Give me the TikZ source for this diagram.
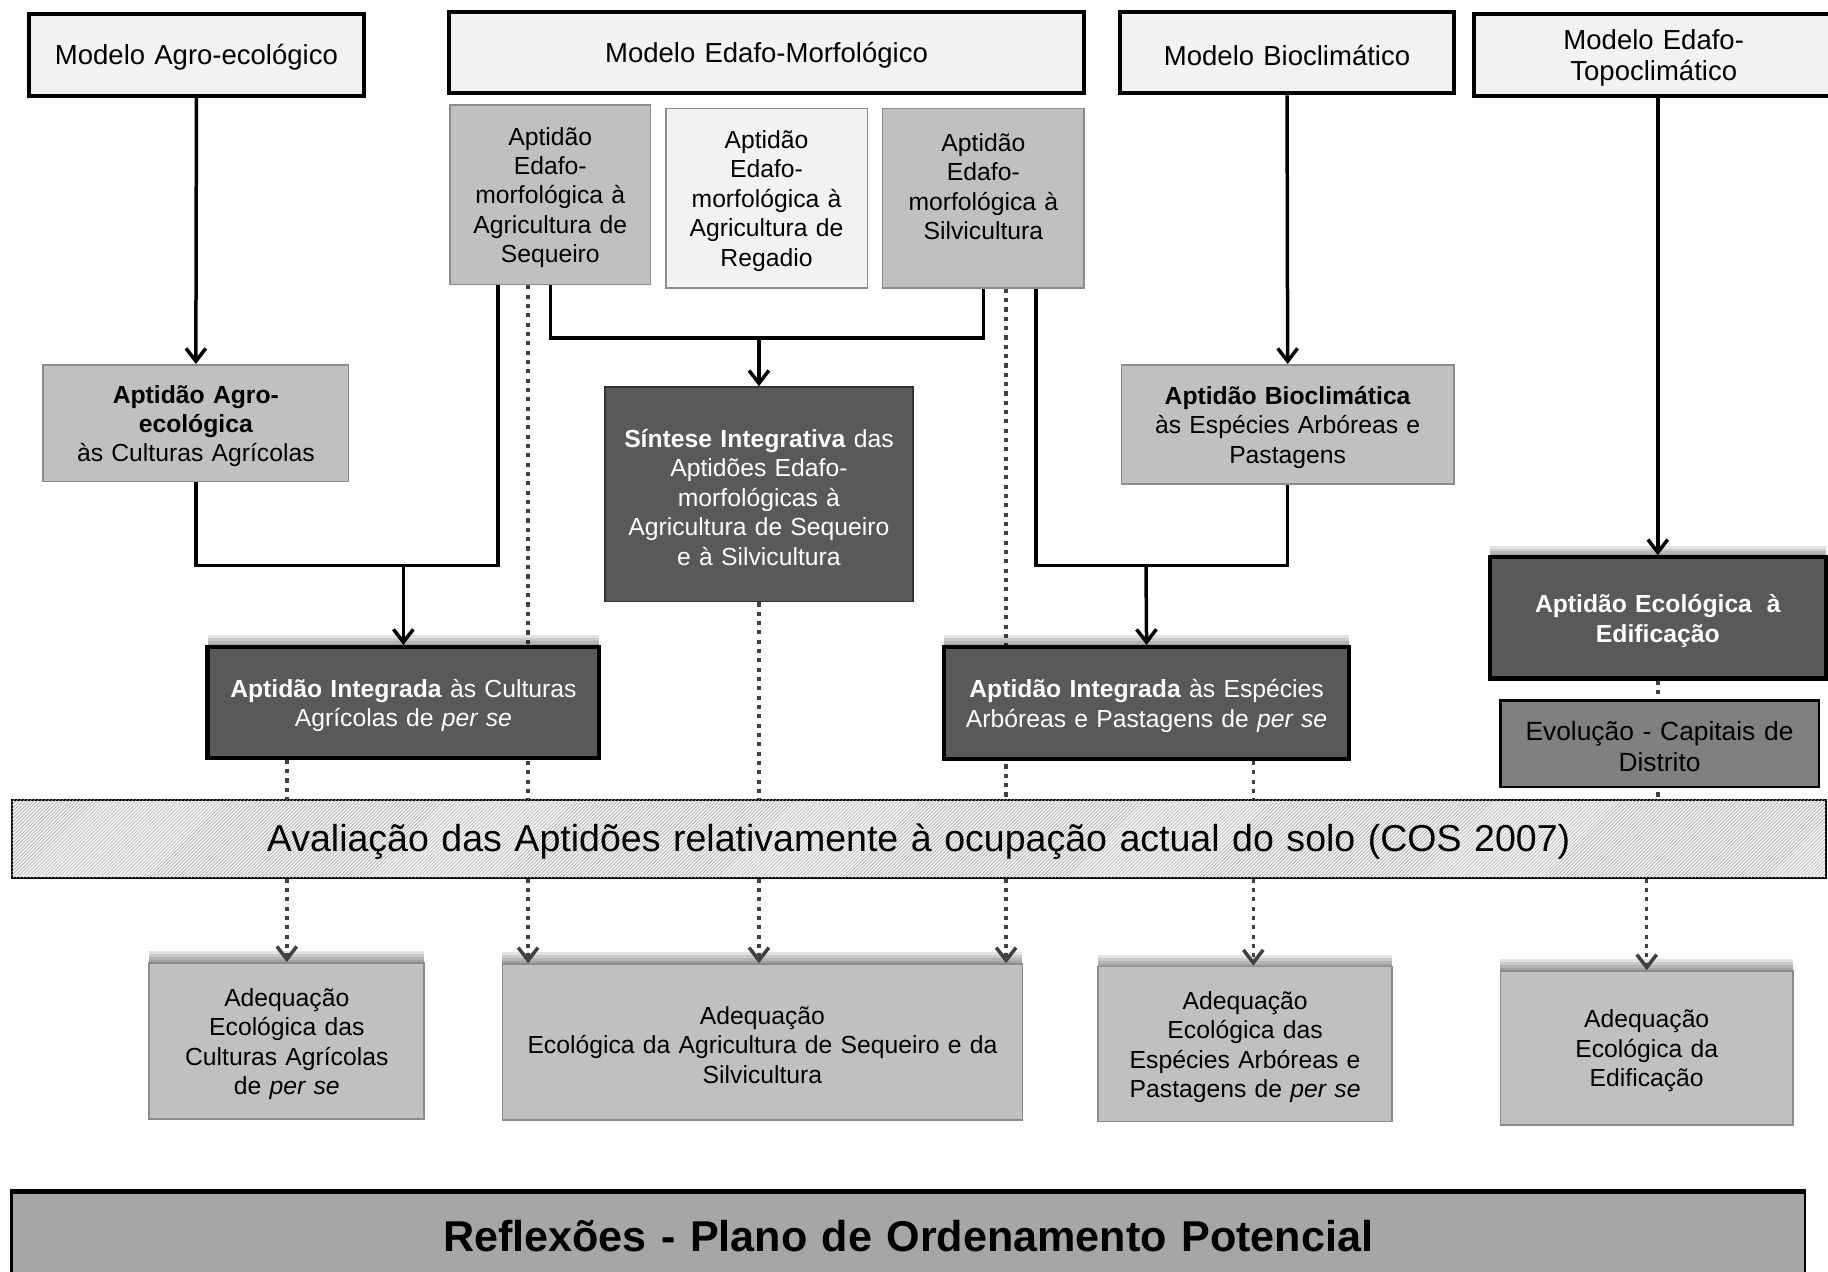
\documentclass[tikz,border=0pt]{standalone}
\usepackage{fontspec}
\setmainfont{Liberation Sans}
\usetikzlibrary{arrows.meta,patterns,shadows,calc}
\pgfdeclarelayer{bg}
\pgfsetlayers{bg,main}

\definecolor{lightfill}{HTML}{F2F2F2}
\definecolor{midfill}{HTML}{C0C0C0}
\definecolor{darkfill}{HTML}{595959}
\definecolor{evfill}{HTML}{808080}
\definecolor{reffill}{HTML}{A6A6A6}
\definecolor{dotcol}{HTML}{404040}
\definecolor{thinborder}{HTML}{8C8C8C}

\newcommand\mainsz{\fontsize{21.2}{25.3}\selectfont}
\newcommand\topsz{\fontsize{23.6}{27}\selectfont}
\newcommand\evsz{\fontsize{22.6}{27}\selectfont}
\newcommand\avsz{\fontsize{32.2}{38}\selectfont}
\newcommand\refsz{\fontsize{37}{44}\selectfont}

% \bx{name}{x1}{y1}{x2}{y2}{box style}{text style}{text}
\newcommand\bx[8]{%
  \pgfmathsetmacro\bxw{#4-#2}%
  \pgfmathsetmacro\bxh{#5-#3}%
  \pgfmathsetmacro\bxtw{#4-#2-8}%
  \pgfmathsetmacro\bxcx{(#2+#4)/2}%
  \pgfmathsetmacro\bxcy{(#3+#5)/2}%
  \pgfmathsetmacro\bxty{(#3+#5)/2+2.5}%
  \node[#6, minimum width=\bxw pt, minimum height=\bxh pt] (#1) at (\bxcx,\bxcy) {};
  \node[base, #7, text width=\bxtw pt] (#1-t) at (\bxcx,\bxty) {#8};}

\tikzset{
  base/.style={rectangle, align=center, inner sep=0pt},
  topshadow/.style={general shadow={fill=black, opacity=0.11, shadow yshift=10pt},
                    general shadow={fill=black, opacity=0.11, shadow yshift=7.5pt},
                    general shadow={fill=black, opacity=0.11, shadow yshift=5pt},
                    general shadow={fill=black, opacity=0.11, shadow yshift=2.5pt}},
  modelbox/.style={base, draw=black, line width=3.5pt, fill=lightfill},
  graybox/.style={base, draw=thinborder, line width=1.5pt, fill=midfill},
  lightbox/.style={base, draw=thinborder, line width=1.5pt, fill=lightfill},
  darkbox/.style={base, draw=black, line width=3.5pt, fill=darkfill, topshadow},
  synbox/.style={base, draw=black!80, line width=1.5pt, fill=darkfill},
  evbox/.style={base, draw=black, line width=2pt, fill=evfill},
  adbox/.style={graybox, topshadow},
  bandbox/.style={base, draw=black, line width=1.5pt, fill=gray!8,
                  postaction={pattern=north east lines, pattern color=gray!75}},
  refbox/.style={base, draw=black, line width=2pt, fill=reffill},
  toptext/.style={font=\topsz},
  maintext/.style={font=\mainsz},
  whitetext/.style={font=\mainsz, text=white},
  evtext/.style={font=\evsz},
  avtext/.style={font=\avsz},
  reftext/.style={font=\refsz\bfseries},
  conn/.style={draw=black, line width=3pt, line join=miter},
  carr/.style={conn, -{Straight Barb[length=11pt,width=17pt]}},
  dotline/.style={draw=dotcol, line width=3pt, dash pattern=on 3.5pt off 4.5pt},
  dotarr/.style={dotline, -{Straight Barb[length=11pt,width=17pt]}}
}

\begin{document}
\begin{tikzpicture}[x=1pt,y=-1pt]
\useasboundingbox (0,0) rectangle (1568,1091);

% top models
\bx{m1}{25}{12}{312}{82}{modelbox}{toptext}{Modelo Agro-ecológico}
\bx{m2}{385}{10}{930}{80}{modelbox}{toptext}{Modelo Edafo-Morfológico}
\bx{m3}{961}{10}{1247}{80}{modelbox}{toptext}{Modelo Bioclimático}
\bx{m4}{1264}{12}{1573}{82}{modelbox}{toptext}{Modelo Edafo-\\Topoclimático}

% edafo-morphological aptitudes
\bx{a1}{386}{90}{558}{244}{graybox}{maintext}{Aptidão\\Edafo-\\morfológica à\\Agricultura de\\Sequeiro}
\bx{a2}{571}{93}{744}{247}{lightbox}{maintext}{Aptidão\\Edafo-\\morfológica à\\Agricultura de\\Regadio}
\bx{a3}{757}{93}{930}{247}{graybox}{maintext}{Aptidão\\Edafo-\\morfológica à\\Silvicultura\\~}

% middle
\bx{b1}{37}{313}{299}{413}{graybox}{maintext}{\textbf{Aptidão Agro-}\\\textbf{ecológica}\\às Culturas Agrícolas}
\bx{s}{519}{332}{783}{516}{synbox}{whitetext}{\textbf{Síntese Integrativa} das\\Aptidões Edafo-\\morfológicas à\\Agricultura de Sequeiro\\e à Silvicultura}
\bx{b3}{962}{313}{1247}{415}{graybox}{maintext}{\textbf{Aptidão Bioclimática}\\às Espécies Arbóreas e\\Pastagens}
\bx{e}{1278}{478}{1566}{582}{darkbox}{whitetext}{\textbf{Aptidão Ecológica\hspace{0.6em}à}\\\textbf{Edificação}}
\bx{ev}{1287}{601}{1560}{675}{evbox}{evtext}{Evolução - Capitais de\\Distrito}

\bx{i1}{178}{555}{514}{650}{darkbox}{whitetext}{\textbf{Aptidão Integrada} às Culturas\\Agrícolas de \textit{per se}}
\bx{i2}{810}{555}{1157}{651}{darkbox}{whitetext}{\textbf{Aptidão Integrada} às Espécies\\Arbóreas e Pastagens de \textit{per se}}

% band
\bx{av}{10}{686}{1566}{753}{bandbox}{avtext}{Avaliação das Aptidões relativamente à ocupação actual do solo (COS 2007)}

% bottom boxes
\bx{d1}{128}{826}{364}{960}{adbox}{maintext}{Adequação\\Ecológica das\\Culturas Agrícolas\\de \textit{per se}}
\bx{d2}{431}{827}{877}{961}{adbox}{maintext}{Adequação\\Ecológica da Agricultura de Sequeiro e da\\Silvicultura}
\bx{d3}{942}{829}{1194}{962}{adbox}{maintext}{Adequação\\Ecológica das\\Espécies Arbóreas e\\Pastagens de \textit{per se}}
\bx{d4}{1287}{833}{1538}{965}{adbox}{maintext}{Adequação\\Ecológica da\\Edificação}

% final
\bx{r}{10}{1023}{1548}{1093}{refbox}{reftext}{Reflexões - Plano de Ordenamento Potencial}
\draw[line width=4pt] (r.north west) -- (r.north east);

% helper coordinates
\coordinate (j1) at (651,290);
\coordinate (j2) at (346,485);
\coordinate (j3) at (983,485);
\coordinate (a1l) at ([xshift=-45pt]a1.south);
\coordinate (a3r) at ([xshift=45pt]a3.south);
\coordinate (a1d) at ([xshift=-19pt]a1.south);
\coordinate (a3d) at ([xshift=19.5pt]a3.south);
\coordinate (i1d) at (i1.south -| d1.north);
\coordinate (i2d) at ([xshift=91.5pt]i2.south);

% dotted lines behind boxes
\begin{pgfonlayer}{bg}
  \draw[dotline] (i1d) -- (av.north -| i1d);
  \draw[dotline] (a1d) -- (av.north -| a1d);
  \draw[dotline] (s.south) -- (av.north -| s.south);
  \draw[dotline] (a3d) -- (av.north -| a3d);
  \draw[dotline] (i2d) -- (av.north -| i2d);
  \draw[dotline] (e.south) -- (av.north -| e.south);
\end{pgfonlayer}

% dotted arrows to bottom boxes
\draw[dotarr] (av.south -| d1.north) -- (d1.north);
\draw[dotarr] (av.south -| a1d) -- (d2.north -| a1d);
\draw[dotarr] (av.south -| s.south) -- (d2.north -| s.south);
\draw[dotarr] (av.south -| a3d) -- (d2.north -| a3d);
\draw[dotarr] (av.south -| i2d) -- (d3.north -| i2d);
\draw[dotarr] (av.south -| d4.north) -- (d4.north);

% solid connectors
\draw[carr] (m1.south) -- (b1.north);
\draw[carr] (m3.south) -- (b3.north);
\draw[carr] (m4.south -| e.north) -- (e.north);

\draw[conn] (a1.south) |- (j1) -| (a3.south);
\draw[carr] (j1) -- (s.north);

\draw[conn] (b1.south) |- (j2) -| (a1l);
\draw[carr] (j2) -- (i1.north);

\draw[conn] (a3r) |- (j3) -| (b3.south);
\draw[carr] (j3) -- (i2.north);
\end{tikzpicture}
\end{document}
